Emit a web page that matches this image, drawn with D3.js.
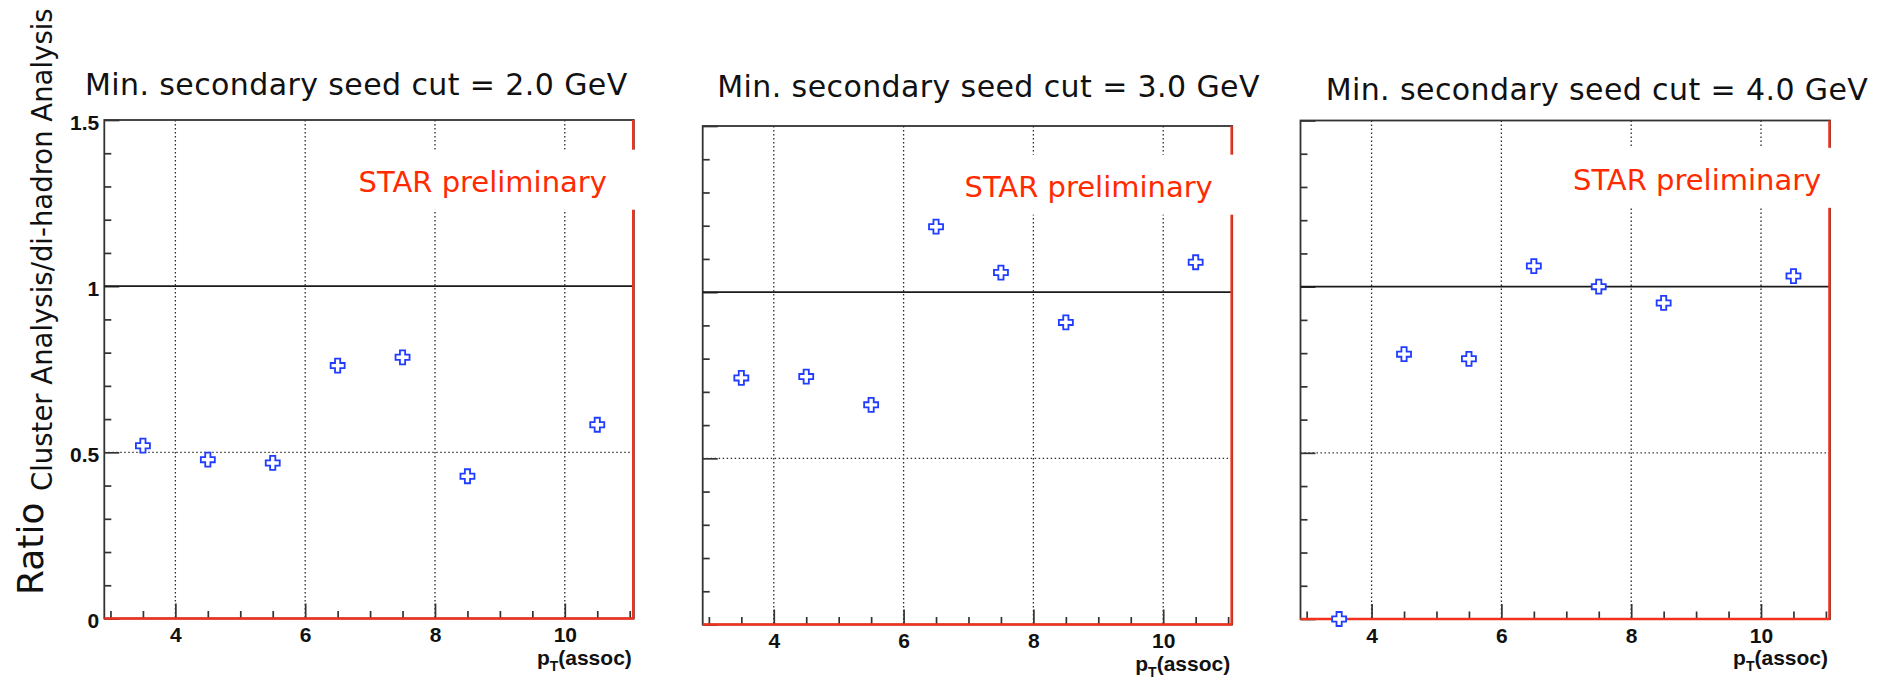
<!DOCTYPE html>
<html>
<head>
<meta charset="utf-8">
<script src="https://cdn.jsdelivr.net/npm/d3@7"></script>
<style>
  html, body { margin: 0; padding: 0; background: #fff; }
  svg { display: block; }
</style>
</head>
<body>
<svg id="chart" width="1887" height="678"></svg>
<script>
// ---- data -------------------------------------------------------------
const ptAssoc   = [3.5, 4.5, 5.5, 6.5, 7.5, 8.5, 10.5];
const seedCuts  = ["2.0", "3.0", "4.0"];
const ratioCut2 = [0.520, 0.478, 0.468, 0.761, 0.786, 0.428, 0.583];
const ratioCut3 = [0.742, 0.746, 0.661, 1.197, 1.059, 0.909, 1.090];
const ratioCut4 = [0.000, 0.797, 0.783, 1.062, 1.000, 0.951, 1.032];
const xMajorTicks = [4, 6, 8, 10];
const xMinorTicks = [3, 3.5, 4.5, 5, 5.5, 6.5, 7, 7.5, 8.5, 9, 9.5, 10.5, 11];
const yMajorTicks = [0, 0.5, 1, 1.5];
const yMinorTicks = [0.1, 0.2, 0.3, 0.4, 0.6, 0.7, 0.8, 0.9, 1.1, 1.2, 1.3, 1.4];
const yTickLabels = ["0", "0.5", "1", "1.5"];
const xGridValues = [4, 6, 8, 10];
const yGridValues = [0.5];
const referenceLevel = 1;
const series = [ratioCut2, ratioCut3, ratioCut4];

// ---- layout -----------------------------------------------------------
const W = 529.5, H = 498.5;
const panels = [
  { left: 104.3,  top: 120.0, titleDx: -19.3, titleY: 95.0,  starDx: 254.3, starDy: 71.7, yLabels: true  },
  { left: 702.7,  top: 126.0, titleDx: 14.6,  titleY: 96.7,  starDx: 261.8, starDy: 70.7, yLabels: false },
  { left: 1300.5, top: 120.5, titleDx: 25.2,  titleY: 100.0, starDx: 272.5, starDy: 69.3, yLabels: false }
];

const FRAME = "#333", GRID = "#2a2a2a", RED = "#f2321c", BLUE = "#1f3cff";
const LABEL_FONT = "'Liberation Sans', Arial, sans-serif";
const TEXT_FONT  = "'DejaVu Sans', sans-serif";

const svg = d3.select("#chart");
const x = d3.scaleLinear().domain([2.905, 11.063]).range([0, W]);
const y = d3.scaleLinear().domain([0, 1.5]).range([H, 0]);

// open-cross marker outline
const armHalf = 2.6, armLen = 7;
const crossPath = `M${-armHalf},${-armLen}H${armHalf}V${-armHalf}H${armLen}V${armHalf}H${armHalf}V${armLen}H${-armHalf}V${armHalf}H${-armLen}V${-armHalf}H${-armHalf}Z`;

panels.forEach((p, i) => {
  // title above the frame
  svg.append("text")
    .attr("x", p.left + p.titleDx).attr("y", p.titleY)
    .attr("font-family", TEXT_FONT).attr("font-size", 30)
    .attr("letter-spacing", 0.4).attr("fill", "#111")
    .text(`Min. secondary seed cut = ${seedCuts[i]} GeV`);

  const g = svg.append("g").attr("transform", `translate(${p.left},${p.top})`);

  // dotted grid
  g.selectAll(".vgrid").data(xGridValues).join("line")
    .attr("x1", d => x(d)).attr("x2", d => x(d))
    .attr("y1", 0).attr("y2", H)
    .attr("stroke", GRID).attr("stroke-width", 1.3).attr("stroke-dasharray", "1.4,2.6");
  g.selectAll(".hgrid").data(yGridValues).join("line")
    .attr("x1", 0).attr("x2", W)
    .attr("y1", d => y(d)).attr("y2", d => y(d))
    .attr("stroke", GRID).attr("stroke-width", 1.3).attr("stroke-dasharray", "1.4,2.6");

  // x ticks (inward) and labels
  const xMinor = g.append("g").attr("transform", `translate(0,${H})`)
    .call(d3.axisBottom(x).tickValues(xMinorTicks).tickSize(-7.5).tickFormat(""));
  const xMajor = g.append("g").attr("transform", `translate(0,${H})`)
    .call(d3.axisBottom(x).tickValues(xMajorTicks).tickSize(-15).tickPadding(9).tickFormat(d3.format("d")));

  // y ticks (inward), labels on the first panel only
  const yMinor = g.append("g")
    .call(d3.axisLeft(y).tickValues(yMinorTicks).tickSize(-7).tickFormat(""));
  const yMajor = g.append("g")
    .call(d3.axisLeft(y).tickValues(yMajorTicks).tickSize(-15).tickPadding(5)
      .tickFormat((d, k) => p.yLabels ? yTickLabels[k] : ""));

  [xMinor, xMajor, yMinor, yMajor].forEach(a => {
    a.select(".domain").remove();
    a.selectAll(".tick line").attr("stroke", FRAME).attr("stroke-width", 1.7);
    a.selectAll(".tick text")
      .attr("font-family", LABEL_FONT).attr("font-weight", "bold")
      .attr("font-size", 21).attr("fill", "#111");
  });
  yMajor.selectAll(".tick text").attr("dy", "0.45em");

  // frame
  g.append("rect").attr("x", 0).attr("y", 0).attr("width", W).attr("height", H)
    .attr("fill", "none").attr("stroke", FRAME).attr("stroke-width", 1.8);

  // reference line at ratio = 1
  g.append("line")
    .attr("x1", 0).attr("x2", W)
    .attr("y1", y(referenceLevel)).attr("y2", y(referenceLevel))
    .attr("stroke", "#1a1a1a").attr("stroke-width", 1.8);

  // red baseline and right edge
  g.append("line").attr("x1", 0).attr("x2", W).attr("y1", y(0)).attr("y2", y(0))
    .attr("stroke", RED).attr("stroke-width", 2.4);
  g.append("line").attr("x1", W - 0.6).attr("x2", W - 0.6).attr("y1", 0).attr("y2", H)
    .attr("stroke", RED).attr("stroke-width", 2.4);

  // data points
  g.selectAll(".pt").data(series[i].map((v, k) => ({ pt: ptAssoc[k], v })))
    .join("path")
    .attr("d", crossPath)
    .attr("transform", d => `translate(${x(d.pt)},${y(d.v)})`)
    .attr("fill", "#fff").attr("stroke", BLUE).attr("stroke-width", 1.8);

  // preliminary label on white patch
  const sx = p.starDx, sy = p.starDy;
  g.append("rect")
    .attr("x", sx - 14).attr("y", sy - 42)
    .attr("width", W - sx + 24).attr("height", 60)
    .attr("fill", "#fff");
  g.append("text")
    .attr("x", sx).attr("y", sy)
    .attr("font-family", TEXT_FONT).attr("font-size", 29)
    .attr("fill", "#ff2a00")
    .text("STAR preliminary");

  // x axis title
  const xt = g.append("text")
    .attr("x", W - 2).attr("y", H + 46)
    .attr("text-anchor", "end")
    .attr("font-family", LABEL_FONT).attr("font-weight", "bold")
    .attr("font-size", 21).attr("fill", "#111");
  xt.append("tspan").text("p");
  xt.append("tspan").attr("dy", 6).attr("font-size", 14).text("T");
  xt.append("tspan").attr("dy", -6).text("(assoc)");
});

// shared y axis title
svg.append("text")
  .attr("transform", "translate(43,595) rotate(-90)")
  .attr("font-family", TEXT_FONT).attr("font-size", 36).attr("fill", "#111")
  .text("Ratio");
svg.append("text")
  .attr("transform", "translate(52,491) rotate(-90)")
  .attr("font-family", TEXT_FONT).attr("font-size", 27.5).attr("fill", "#111")
  .text("Cluster Analysis/di-hadron Analysis");
</script>
</body>
</html>
